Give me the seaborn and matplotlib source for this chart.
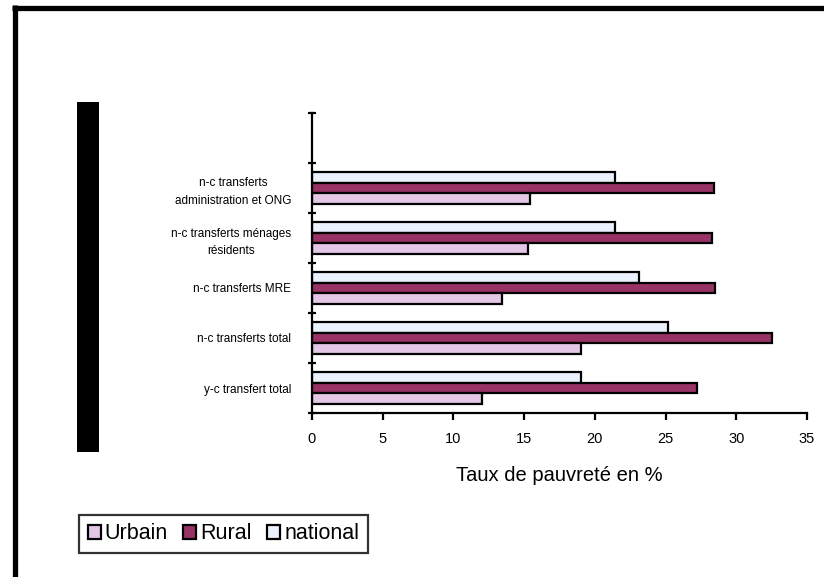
import matplotlib
matplotlib.use("Agg")
import matplotlib.pyplot as plt
import matplotlib.patches as mpatches
import seaborn as sns
import pandas as pd

# Categories, listed top to bottom (first entry is an empty slot at the top)
categories = [
    "",
    "n-c transferts\nadministration et ONG",
    "n-c transferts ménages\nrésidents",
    "n-c transferts MRE",
    "n-c transferts total",
    "y-c transfert total",
]
urbain = [15.4, 15.3, 13.4, 19.0, 12.0]
rural = [28.4, 28.3, 28.5, 32.5, 27.2]
national = [21.4, 21.4, 23.1, 25.2, 19.0]
series_names = ["Urbain", "Rural", "national"]
series_colors = {"Urbain": "#E4C6E6", "Rural": "#993366", "national": "#EAF2FD"}
x_ticks = [0, 5, 10, 15, 20, 25, 30, 35]

rows = []
for cat, u, r, n in zip(categories[1:], urbain, rural, national):
    rows.append({"cat": cat, "serie": "Urbain", "val": u})
    rows.append({"cat": cat, "serie": "Rural", "val": r})
    rows.append({"cat": cat, "serie": "national", "val": n})
df = pd.DataFrame(rows)

sns.set_style("white")
plt.rcParams["font.family"] = ["Liberation Sans", "DejaVu Sans"]
plt.rcParams["text.color"] = "black"
plt.rcParams["axes.labelcolor"] = "black"
plt.rcParams["xtick.color"] = "black"
plt.rcParams["ytick.color"] = "black"

fig = plt.figure(figsize=(8.24, 5.77), dpi=100)
ax = fig.add_axes([312 / 824, 1 - 413 / 577, 495 / 824, 300 / 577])

sns.barplot(
    data=df, y="cat", x="val", hue="serie", orient="h",
    order=categories, hue_order=["national", "Rural", "Urbain"],
    palette=series_colors, width=0.64, gap=0, errorbar=None,
    edgecolor="black", linewidth=1.6, saturation=1, legend=False, ax=ax,
)

ax.set_xlim(0, 35)
ax.set_ylim(5.5, -0.5)
ax.set_xticks(x_ticks)
ax.set_xticklabels([str(t) for t in x_ticks], fontsize=10.5)
ax.set_yticks([i for i in range(len(categories))])
ax.set_yticklabels(categories, fontsize=8.5, ha="right",
                   multialignment="center", linespacing=1.6)
ax.tick_params(axis="y", which="major", left=False, length=0, pad=15)
ax.set_yticks([i - 0.5 for i in range(len(categories) + 1)], minor=True)
ax.tick_params(axis="y", which="minor", left=True, length=6, width=1.6,
               direction="inout")
ax.tick_params(axis="x", bottom=True, length=5, width=1.6, direction="out",
               pad=9)
ax.set_ylabel("")
ax.set_xlabel("Taux de pauvreté en %", fontsize=14.5, labelpad=14)

for side in ["top", "right"]:
    ax.spines[side].set_visible(False)
for side in ["left", "bottom"]:
    ax.spines[side].set_linewidth(1.6)
    ax.spines[side].set_color("black")

# Frame lines along the top and left of the figure
fig.add_artist(plt.Line2D([12 / 824, 1], [1 - 7.5 / 577] * 2, color="black",
                          linewidth=3.8, solid_capstyle="butt",
                          transform=fig.transFigure))
fig.add_artist(plt.Line2D([14.5 / 824] * 2, [0, 1 - 5 / 577], color="black",
                          linewidth=3.8, solid_capstyle="butt",
                          transform=fig.transFigure))

# Black vertical block on the left
fig.add_artist(mpatches.Rectangle((77 / 824, 1 - 452 / 577), 22 / 824, 350 / 577,
                                  facecolor="black", edgecolor="none",
                                  transform=fig.transFigure))

# Legend
handles = [mpatches.Patch(facecolor=series_colors[s], edgecolor="black",
                          linewidth=1.6, label=s) for s in series_names]
leg = fig.legend(handles=handles, loc="lower left",
                 bbox_to_anchor=(79 / 824, 1 - 553 / 577), ncol=3,
                 frameon=True, fancybox=False, fontsize=15.5,
                 handlelength=0.6, handleheight=0.6, handletextpad=0.2,
                 columnspacing=0.7, borderpad=0.4, borderaxespad=0)
leg.get_frame().set_edgecolor("black")
leg.get_frame().set_linewidth(1.6)

fig.savefig("out.png", dpi=100)
